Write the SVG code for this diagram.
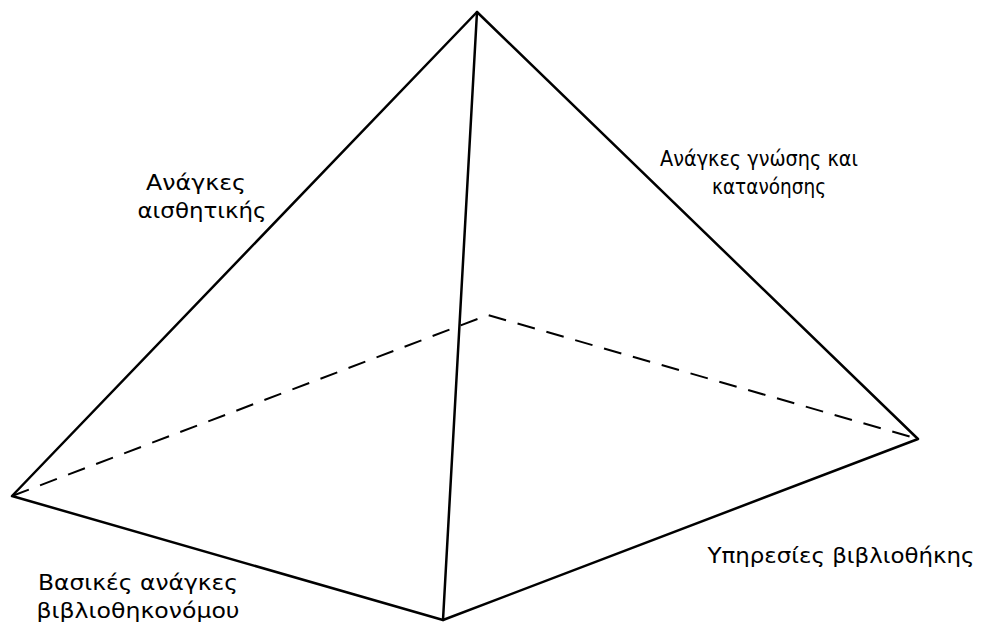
<svg xmlns="http://www.w3.org/2000/svg" width="989" height="627" viewBox="0 0 989 627">
<style>
.e{fill:none;stroke:#000;stroke-width:2.5;stroke-linecap:round;stroke-linejoin:round}
.d{fill:none;stroke:#000;stroke-width:2;stroke-dasharray:18,12}
.t{font-family:"DejaVu Sans","Liberation Sans",sans-serif;font-size:22px;fill:#000}
</style>
<rect width="989" height="627" fill="#fff"/>
<g id="connectors">
<path class="d" d="M12,496 L488,315 L918,439"/>
<path class="e" d="M12,496 L477,12 L918,439 L443,620 Z"/>
<path class="e" d="M477,12 L443,620" stroke-width="3"/>
</g>
<g id="label-aesthetic">
<text class="t" x="196" y="190" text-anchor="middle" textLength="100" lengthAdjust="spacingAndGlyphs">Ανάγκες</text>
<text class="t" x="202" y="218" text-anchor="middle" textLength="129" lengthAdjust="spacingAndGlyphs">αισθητικής</text>
</g>
<g id="label-knowledge">
<text class="t" x="759" y="166" text-anchor="middle" textLength="198" lengthAdjust="spacingAndGlyphs">Ανάγκες γνώσης και</text>
<text class="t" x="769" y="194" text-anchor="middle" textLength="114" lengthAdjust="spacingAndGlyphs">κατανόησης</text>
</g>
<g id="label-services">
<text class="t" x="841" y="563" text-anchor="middle" textLength="267" lengthAdjust="spacingAndGlyphs">Υπηρεσίες βιβλιοθήκης</text>
</g>
<g id="label-basic">
<text class="t" x="138" y="590" text-anchor="middle" textLength="200" lengthAdjust="spacingAndGlyphs">Βασικές ανάγκες</text>
<text class="t" x="138" y="618" text-anchor="middle" textLength="203" lengthAdjust="spacingAndGlyphs">βιβλιοθηκονόμου</text>
</g>
</svg>
